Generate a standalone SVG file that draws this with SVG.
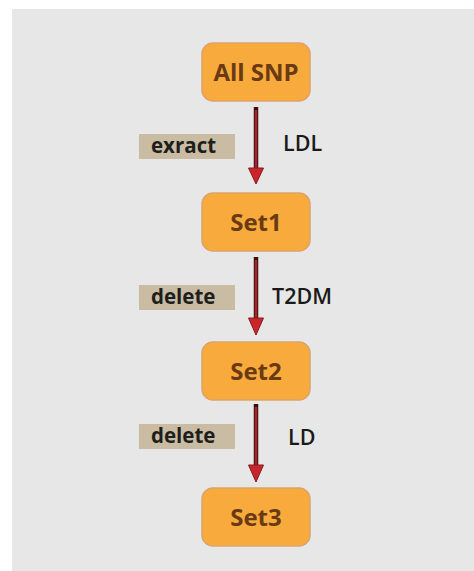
<svg xmlns="http://www.w3.org/2000/svg" width="474" height="571" viewBox="0 0 474 571">
<style>
.node rect{fill:#f9aa3c;stroke:#dca46a;stroke-width:1.5}
.node text{font-family:"Open Sans","Liberation Sans",sans-serif;font-weight:bold;font-size:24px;fill:#6a3a12;text-anchor:middle}
.tag rect{fill:#c9bca3}
.tag text{font-family:"Open Sans","Liberation Sans",sans-serif;font-weight:bold;font-size:20.5px;fill:#1e1e1e}
.side{font-family:"Open Sans","Liberation Sans",sans-serif;font-weight:600;font-size:21.5px;fill:#1a1a1a}
.shaft{stroke:#3a0c0c;stroke-width:4.5}
.shaftin{stroke:#a3272b;stroke-width:2.5}
.head{fill:#c8262c;stroke:#8a1a1e;stroke-width:1}
</style>
<rect x="0" y="0" width="474" height="571" fill="#ffffff"/>
<rect x="12" y="9" width="462" height="562" fill="#e6e7e6"/>
<g id="connectors">
<line class="shaft" x1="256" y1="107" x2="256" y2="170"/>
<line class="shaftin" x1="256" y1="110" x2="256" y2="170"/>
<polygon class="head" points="248.5,168 263.5,168 256,184"/>
<line class="shaft" x1="256" y1="257" x2="256" y2="320"/>
<line class="shaftin" x1="256" y1="260" x2="256" y2="320"/>
<polygon class="head" points="248.5,318 263.5,318 256,335"/>
<line class="shaft" x1="256" y1="404" x2="256" y2="467"/>
<line class="shaftin" x1="256" y1="407" x2="256" y2="467"/>
<polygon class="head" points="248.5,465 263.5,465 256,482"/>
</g>
<g id="label-exract" class="tag"><rect x="139" y="134" width="96" height="25"/><text x="151" y="153">exract</text></g>
<g id="label-delete1" class="tag"><rect x="139" y="285" width="96" height="25"/><text x="151" y="304">delete</text></g>
<g id="label-delete2" class="tag"><rect x="139" y="424" width="96" height="25"/><text x="151" y="443">delete</text></g>
<text class="side" x="283" y="151">LDL</text>
<text class="side" x="272" y="304">T2DM</text>
<text class="side" x="288" y="445">LD</text>
<g id="node-allsnp" class="node"><rect x="202" y="43" width="108" height="58" rx="11"/><text x="256" y="81">All SNP</text></g>
<g id="node-set1" class="node"><rect x="202" y="193" width="108" height="58" rx="11"/><text x="256" y="231">Set1</text></g>
<g id="node-set2" class="node"><rect x="202" y="342" width="108" height="58" rx="11"/><text x="256" y="380">Set2</text></g>
<g id="node-set3" class="node"><rect x="202" y="488" width="108" height="58" rx="11"/><text x="256" y="526">Set3</text></g>
</svg>
